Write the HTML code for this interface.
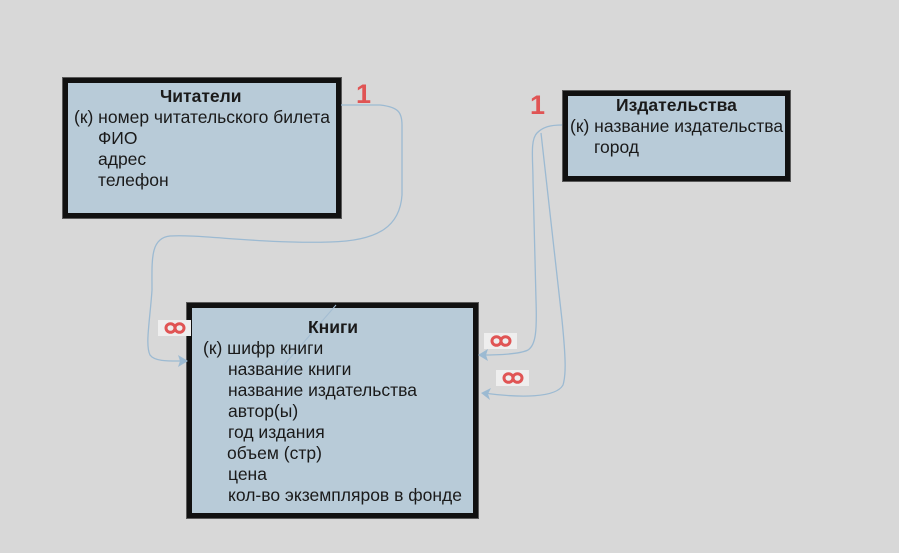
<!DOCTYPE html>
<html><head><meta charset="utf-8"><style>
html,body{margin:0;padding:0;background:#d8d8d8;}
svg{display:block;}
text{font-family:"Liberation Sans",Arial,sans-serif;font-size:17.5px;fill:#1a1a1a;}
.t{font-weight:bold;font-size:17.5px;}
.one{font-size:27px;font-weight:bold;fill:#e05454;}
</style></head><body>
<svg width="899" height="553" viewBox="0 0 899 553">
<rect width="899" height="553" fill="#d8d8d8"/>
<defs>
<g id="inf"><ellipse cx="-4.5" cy="0" rx="4.5" ry="4.3" fill="none" stroke="#e05454" stroke-width="3"/><ellipse cx="4.5" cy="0" rx="4.5" ry="4.3" fill="none" stroke="#e05454" stroke-width="3"/></g>
</defs>
<!-- boxes -->
<rect x="62" y="77" width="280" height="142" fill="#5a5a5a"/>
<rect x="63" y="78" width="278" height="140" fill="#111"/>
<rect x="68" y="83" width="268" height="130" fill="#b8cbd8"/>
<rect x="562" y="90" width="229" height="92" fill="#5a5a5a"/>
<rect x="563" y="91" width="227" height="90" fill="#111"/>
<rect x="568" y="96" width="217" height="80" fill="#b8cbd8"/>
<rect x="186" y="302" width="293" height="217" fill="#5a5a5a"/>
<rect x="187" y="303" width="291" height="215" fill="#111"/>
<rect x="192" y="308" width="281" height="205" fill="#b8cbd8"/>
<!-- connectors -->
<g fill="none" stroke="#9cbad2" stroke-width="1.3">
<path d="M341 105 H380 C398 107 402 112 402 125 V195 C400 225 380 241 330 242 C260 244 200 234 170 236 C150 238 152 260 152 290 C150 320 145 345 150 355 C155 362 170 361 186 361"/>
<path d="M562 125 C550 125 543 127 537 133 C530 140 533 160 533 180 L536 300 C537 330 536 345 528 350 C520 354 500 355 481 355"/>
<path d="M541 133 L562 320 C566 360 566 375 563 385 C556 398 520 398 484 393"/>
<path d="M336 305 L278 372" stroke="#a4bdd2" stroke-width="1"/>
</g>
<g fill="#9cbad2">
<path d="M188 361 L178 355 L180 361 L178 367 Z"/>
<path d="M478 355 L488 349 L486 355 L488 361 Z"/>
<path d="M481 393 L491 388 L488 394 L490 400 Z"/>
</g>
<!-- labels -->
<text class="one" x="356" y="103">1</text>
<text class="one" x="530" y="114">1</text>
<rect x="158" y="320" width="33" height="16" fill="#eeeeee"/>
<use href="#inf" x="175" y="328"/>
<rect x="484" y="333" width="33" height="16" fill="#eeeeee"/>
<use href="#inf" x="501" y="341"/>
<rect x="496" y="370" width="33" height="16" fill="#eeeeee"/>
<use href="#inf" x="513" y="378"/>
<!-- text Читатели -->
<text class="t" x="160" y="102">Читатели</text>
<text x="74" y="123">(к) номер читательского билета</text>
<text x="98" y="144">ФИО</text>
<text x="98" y="165">адрес</text>
<text x="98" y="186">телефон</text>
<!-- Издательства -->
<text class="t" x="616" y="111">Издательства</text>
<text x="570" y="132">(к) название издательства</text>
<text x="594" y="153">город</text>
<!-- Книги -->
<text class="t" x="308" y="333">Книги</text>
<text x="203" y="354">(к) шифр книги</text>
<text x="228" y="375">название книги</text>
<text x="228" y="396">название издательства</text>
<text x="228" y="417">автор(ы)</text>
<text x="228" y="438">год издания</text>
<text x="227" y="459">объем (стр)</text>
<text x="228" y="480">цена</text>
<text x="228" y="501">кол-во экземпляров в фонде</text>
</svg>
</body></html>
